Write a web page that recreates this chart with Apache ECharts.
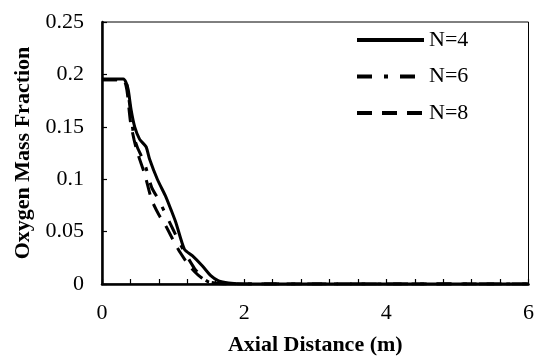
<!DOCTYPE html>
<html><head><meta charset="utf-8">
<script src="https://cdn.jsdelivr.net/npm/echarts@6/dist/echarts.min.js"></script>
<style>html,body{margin:0;padding:0;background:#fff}#c{width:537px;height:361px}</style>
</head><body><div id="c"></div>
<script>
const seriesNames = ["N=4", "N=6", "N=8"];
const xN4 = [0, 0.3, 0.34, 0.37, 0.41, 0.46, 0.53, 0.62, 0.67, 0.78, 0.9, 0.97, 1.04, 1.16, 1.27, 1.41, 1.53, 1.64, 1.78, 2.0, 3.0, 4.0, 5.0, 6.0];
const yN4 = [0.1955, 0.1955, 0.192, 0.185, 0.166, 0.150, 0.138, 0.131, 0.119, 0.0997, 0.083, 0.071, 0.0585, 0.033, 0.027, 0.0174, 0.008, 0.003, 0.001, 0, 0, 0, 0, 0];
const xN6 = [0, 0.3, 0.35, 0.4, 0.45, 0.5, 0.6, 0.7, 0.8, 0.9, 1.0, 1.1, 1.2, 1.3, 1.4, 1.5, 1.7, 2.0, 3.0, 4.0, 5.0, 6.0];
const yN6 = [0.195, 0.195, 0.19, 0.165, 0.14, 0.13, 0.115, 0.092, 0.08, 0.066, 0.052, 0.038, 0.026, 0.015, 0.007, 0.002, 0.0005, 0, 0, 0, 0, 0];
const xN8 = [0, 0.3, 0.35, 0.4, 0.45, 0.5, 0.6, 0.7, 0.8, 0.9, 1.0, 1.1, 1.2, 1.3, 1.4, 1.5, 1.7, 2.0, 3.0, 4.0, 5.0, 6.0];
const yN8 = [0.195, 0.195, 0.185, 0.155, 0.138, 0.125, 0.105, 0.08, 0.066, 0.055, 0.042, 0.03, 0.02, 0.012, 0.006, 0.002, 0, 0, 0, 0, 0, 0];
const xTickLabels = ["0", "2", "4", "6"];
const yTickLabels = ["0", "0.05", "0.1", "0.15", "0.2", "0.25"];

const pair = (xs, ys) => xs.map((x, i) => [x, ys[i]]);
const font = "Liberation Serif";
const chart = echarts.init(document.getElementById('c'), null, {renderer: 'canvas'});
const styles = [
  {type: 'solid'},
  {type: [15, 12, 4, 12]},
  {type: [15, 10]}
];
const datas = [pair(xN4, yN4), pair(xN6, yN6), pair(xN8, yN8)];
chart.setOption({
  animation: false,
  backgroundColor: '#fff',
  grid: {left: 102, right: 4, top: 22, bottom: 76, show: true, borderColor: '#000', borderWidth: 1, backgroundColor: 'transparent'},
  legend: {
    left: 355, top: 29, orient: 'vertical', itemGap: 14.5, itemWidth: 67, itemHeight: 22,
    padding: 0,
    itemStyle: {opacity: 0},
    lineStyle: {width: 4},
    textStyle: {fontFamily: font, fontSize: 22, lineHeight: 22, color: '#000'},
    data: seriesNames
  },
  xAxis: {
    type: 'value', min: 0, max: 6, interval: 2,
    name: 'Axial Distance (m)', nameLocation: 'middle', nameGap: 50,
    nameTextStyle: {fontFamily: font, fontSize: 22, fontWeight: 'bold', color: '#000'},
    axisLine: {lineStyle: {color: '#000', width: 2.5}},
    axisTick: {inside: true, length: 5, lineStyle: {color: '#000', width: 1.2}},
    minorTick: {show: true, splitNumber: 5, length: 5, lineStyle: {color: '#000', width: 1.2}},
    splitLine: {show: false},
    axisLabel: {fontFamily: font, fontSize: 22, color: '#000', margin: 18,
      formatter: v => xTickLabels[Math.round(v / 2)]}
  },
  yAxis: {
    type: 'value', min: 0, max: 0.25, interval: 0.05,
    name: 'Oxygen Mass Fraction', nameLocation: 'middle', nameGap: 66,
    nameTextStyle: {fontFamily: font, fontSize: 22, fontWeight: 'bold', color: '#000'},
    axisLine: {lineStyle: {color: '#000', width: 2.5}},
    axisTick: {inside: true, length: 5, lineStyle: {color: '#000', width: 1.2}},
    splitLine: {show: false},
    axisLabel: {fontFamily: font, fontSize: 22, color: '#000', margin: 18,
      formatter: v => yTickLabels[Math.round(v / 0.05)]}
  },
  series: seriesNames.map((n, i) => ({
    name: n, type: 'line', data: datas[i], showSymbol: false, symbol: 'none',
    smooth: 0.2,
    lineStyle: Object.assign({color: '#000', width: 3}, styles[i]),
    itemStyle: {color: '#000'}
  }))
});
</script></body></html>
